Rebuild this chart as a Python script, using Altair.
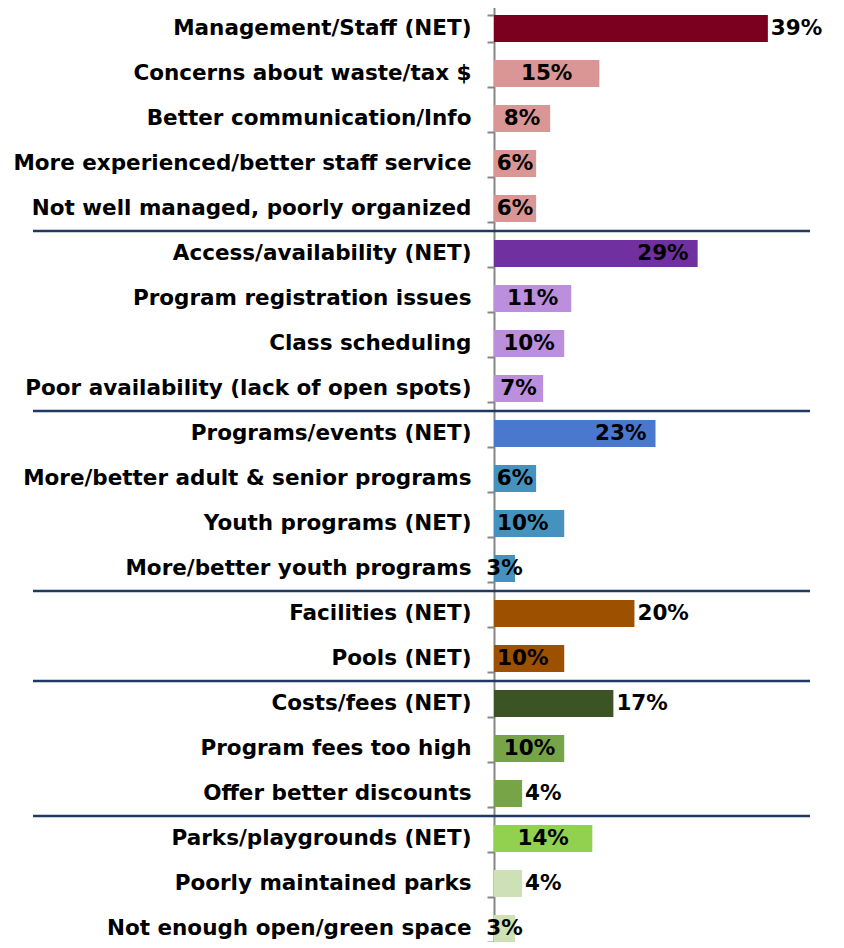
import altair as alt
import pandas as pd

categories = [
    "Management/Staff (NET)",
    "Concerns about waste/tax $",
    "Better communication/Info",
    "More experienced/better staff service",
    "Not well managed, poorly organized",
    "Access/availability (NET)",
    "Program registration issues",
    "Class scheduling",
    "Poor availability (lack of open spots)",
    "Programs/events (NET)",
    "More/better adult & senior programs",
    "Youth programs (NET)",
    "More/better youth programs",
    "Facilities (NET)",
    "Pools (NET)",
    "Costs/fees (NET)",
    "Program fees too high",
    "Offer better discounts",
    "Parks/playgrounds (NET)",
    "Poorly maintained parks",
    "Not enough open/green space",
]
values = [39, 15, 8, 6, 6, 29, 11, 10, 7, 23, 6, 10, 3, 20, 10, 17, 10, 4, 14, 4, 3]

# how each value label sits relative to its bar
label_modes = ["out", "mid", "mid", "mid", "mid",
               "in", "mid", "mid", "mid",
               "in", "mid", "base", "mid",
               "out", "base",
               "out", "in", "out",
               "mid", "out", "mid"]

# last category of each group (a separator line follows it)
group_ends = ["Not well managed, poorly organized",
              "Poor availability (lack of open spots)",
              "More/better youth programs",
              "Pools (NET)",
              "Offer better discounts"]

bar_colors = ["#7B0020", "#D99694", "#D99694", "#D99694", "#D99694",
              "#7030A0", "#BC8FDD", "#BC8FDD", "#BC8FDD",
              "#4A78CF", "#4592BE", "#4592BE", "#4592BE",
              "#9C5000", "#9C5000",
              "#3C5323", "#77A446", "#77A446",
              "#92D050", "#CDE0B6", "#CDE0B6"]

df = pd.DataFrame({"cat": categories, "val": values, "mode": label_modes})
df["label"] = df["val"].astype(str) + "%"
df["sep"] = df["cat"].isin(group_ends)

FONT = "DejaVu Sans"
FS = 21.5

y_enc = alt.Y("cat:N", sort=categories,
              scale=alt.Scale(domain=categories, paddingInner=0.4, paddingOuter=0.2),
              axis=alt.Axis(title=None, labelFont=FONT, labelFontSize=FS, labelFontWeight="bold",
                            labelColor="#000000", labelPadding=16, labelLimit=1000,
                            domainColor="#868686", domainWidth=2,
                            tickColor="#868686", tickWidth=2, tickSize=7,
                            tickBand="extent", grid=False))
x_scale = alt.Scale(domain=[0, 45])

base = alt.Chart(df)

bars = base.mark_bar().encode(
    x=alt.X("val:Q", scale=x_scale, axis=None),
    y=y_enc,
    color=alt.Color("cat:N", scale=alt.Scale(domain=categories, range=bar_colors), legend=None),
)

txt = dict(font=FONT, fontSize=FS, fontWeight="bold", color="#000000", baseline="middle")

t_out = base.transform_filter(alt.datum.mode == "out").mark_text(align="left", dx=3, **txt).encode(
    x=alt.X("val:Q", scale=x_scale), y=alt.Y("cat:N", sort=categories), text="label:N")
t_in = base.transform_filter(alt.datum.mode == "in").mark_text(align="right", dx=-9, **txt).encode(
    x=alt.X("val:Q", scale=x_scale), y=alt.Y("cat:N", sort=categories), text="label:N")
t_mid = base.transform_filter(alt.datum.mode == "mid").transform_calculate(
    half="datum.val / 2").mark_text(align="center", **txt).encode(
    x=alt.X("half:Q", scale=x_scale), y=alt.Y("cat:N", sort=categories), text="label:N")
t_base = base.transform_filter(alt.datum.mode == "base").transform_calculate(
    zero="0").mark_text(align="left", dx=3, **txt).encode(
    x=alt.X("zero:Q", scale=x_scale), y=alt.Y("cat:N", sort=categories), text="label:N")

seps = base.transform_filter(alt.datum.sep).mark_rule(color="#1F3864", strokeWidth=2.5).encode(
    y=alt.Y("cat:N", sort=categories),
    yOffset=alt.value(36),
    x=alt.value(-461),
    x2=alt.value(316),
)

chart = alt.layer(bars, seps, t_out, t_in, t_mid, t_base).properties(
    width=316, height=945,
    autosize=alt.AutoSizeParams(type="none"),
    padding={"left": 486, "top": -2, "right": 25, "bottom": -9},
).configure_view(stroke=None).configure_axis(labelFont=FONT)

chart.save("out.html", embed_options={"renderer": "svg", "actions": False})
